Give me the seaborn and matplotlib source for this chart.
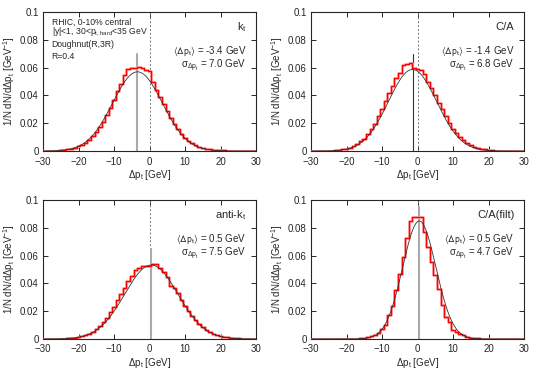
import numpy as np
import matplotlib
matplotlib.use('Agg')
import matplotlib.pyplot as plt
import seaborn as sns
from matplotlib.ticker import FuncFormatter, MultipleLocator

# bin centres (1 GeV bins)
bin_centres = np.arange(-30, 31)

kt_hist = [0.0000, 0.0001, 0.0001, 0.0002, 0.0003, 0.0005, 0.0007, 0.0011, 0.0016, 0.0023,
           0.0033, 0.0045, 0.0060, 0.0082, 0.0105, 0.0135, 0.0170, 0.0210, 0.0260, 0.0310,
           0.0370, 0.0430, 0.0485, 0.0550, 0.0590, 0.0600, 0.0600, 0.0605, 0.0598, 0.0580,
           0.0578, 0.0495, 0.0440, 0.0390, 0.0335, 0.0290, 0.0240, 0.0195, 0.0160, 0.0125,
           0.0097, 0.0075, 0.0057, 0.0043, 0.0032, 0.0024, 0.0018, 0.0013, 0.0010, 0.0007,
           0.0005, 0.0004, 0.0003, 0.0002, 0.0002, 0.0001, 0.0001, 0.0000, 0.0000, 0.0000,
           0.0000]

ca_hist = [0.0000, 0.0000, 0.0000, 0.0000, 0.0001, 0.0002, 0.0003, 0.0005, 0.0007, 0.0011,
           0.0017, 0.0025, 0.0036, 0.0052, 0.0070, 0.0090, 0.0120, 0.0160, 0.0195, 0.0250,
           0.0300, 0.0360, 0.0420, 0.0470, 0.0525, 0.0565, 0.0620, 0.0625, 0.0635, 0.0600,
           0.0592, 0.0585, 0.0555, 0.0500, 0.0450, 0.0405, 0.0345, 0.0300, 0.0255, 0.0200,
           0.0160, 0.0128, 0.0100, 0.0077, 0.0058, 0.0043, 0.0031, 0.0022, 0.0015, 0.0011,
           0.0008, 0.0005, 0.0003, 0.0002, 0.0001, 0.0000, 0.0000, 0.0000, 0.0000, 0.0000,
           0.0000]

akt_hist = [0.0000, 0.0000, 0.0000, 0.0000, 0.0001, 0.0002, 0.0003, 0.0004, 0.0006, 0.0009,
            0.0013, 0.0019, 0.0027, 0.0038, 0.0052, 0.0070, 0.0095, 0.0120, 0.0150, 0.0195,
            0.0230, 0.0280, 0.0325, 0.0370, 0.0420, 0.0455, 0.0495, 0.0510, 0.0528, 0.0525,
            0.0525, 0.0540, 0.0540, 0.0510, 0.0485, 0.0445, 0.0380, 0.0365, 0.0330, 0.0280,
            0.0240, 0.0200, 0.0165, 0.0133, 0.0110, 0.0085, 0.0067, 0.0050, 0.0038, 0.0028,
            0.0020, 0.0015, 0.0011, 0.0008, 0.0006, 0.0004, 0.0003, 0.0002, 0.0001, 0.0001,
            0.0000]

cafilt_hist = [0.0000, 0.0000, 0.0000, 0.0000, 0.0000, 0.0000, 0.0000, 0.0000, 0.0000, 0.0000,
               0.0000, 0.0000, 0.0001, 0.0002, 0.0004, 0.0007, 0.0012, 0.0020, 0.0030, 0.0045,
               0.0070, 0.0100, 0.0170, 0.0240, 0.0350, 0.0470, 0.0590, 0.0724, 0.0850, 0.0880,
               0.0880, 0.0880, 0.0770, 0.0660, 0.0556, 0.0460, 0.0360, 0.0245, 0.0160, 0.0125,
               0.0065, 0.0050, 0.0035, 0.0025, 0.0015, 0.0010, 0.0006, 0.0004, 0.0002, 0.0001,
               0.0000, 0.0000, 0.0000, 0.0000, 0.0000, 0.0000, 0.0000, 0.0000, 0.0000, 0.0000,
               0.0000]

algos = ['k$_\\mathrm{t}$', 'C/A', 'anti-k$_\\mathrm{t}$', 'C/A(filt)']
hists = [kt_hist, ca_hist, akt_hist, cafilt_hist]
means = [-3.4, -1.4, 0.5, 0.5]
sigmas = [7.0, 6.8, 7.5, 4.7]
mean_line_top = [0.070, 0.070, 0.065, 0.095]
mean_line_color = ['#aaaaaa', '#333333', '#aaaaaa', '#aaaaaa']
mean_line_width = [1.5, 0.8, 1.5, 1.5]

sns.set_style('ticks')
plt.rcParams['font.family'] = ['Liberation Sans', 'DejaVu Sans']
plt.rcParams['mathtext.fontset'] = 'custom'
plt.rcParams['mathtext.rm'] = 'Liberation Sans'
plt.rcParams['mathtext.it'] = 'Liberation Sans'
plt.rcParams['font.size'] = 7
plt.rcParams['axes.linewidth'] = 0.8

fig, axes = plt.subplots(2, 2, figsize=(5.38, 3.77), dpi=100)
fig.subplots_adjust(left=0.080, right=0.974, top=0.968, bottom=0.101, wspace=0.258, hspace=0.3525)

xs = np.linspace(-30, 30, 601)

for i, ax in enumerate(axes.flat):
    mu, sig = means[i], sigmas[i]
    # dashed line at zero
    ax.axvline(0, color='0.45', lw=0.7, ls=(0, (2, 2)), zorder=1)
    # mean line
    ax.plot([mu, mu], [0, mean_line_top[i]], color=mean_line_color[i],
            lw=mean_line_width[i], zorder=2)
    # histogram: light band + red line
    sns.lineplot(x=bin_centres, y=hists[i], ax=ax, drawstyle='steps-mid',
                 color='#ffb0b0', lw=2.0, zorder=3)
    sns.lineplot(x=bin_centres, y=hists[i], ax=ax, drawstyle='steps-mid',
                 color='#ff0000', lw=1.0, zorder=4)
    # gaussian with quoted mean and width
    gauss = np.exp(-(xs - mu) ** 2 / (2 * sig ** 2)) / (sig * np.sqrt(2 * np.pi))
    sns.lineplot(x=xs, y=gauss, ax=ax, color='#333333', lw=0.6, zorder=5)

    ax.set_xlim(-30, 30)
    ax.set_ylim(0, 0.1)
    ax.xaxis.set_major_locator(MultipleLocator(10))
    ax.yaxis.set_major_locator(MultipleLocator(0.02))
    ax.yaxis.set_major_formatter(FuncFormatter(lambda v, p: '%g' % round(v, 3)))
    ax.tick_params(direction='in', top=True, right=True, length=3.5, width=0.7,
                   labelsize=7)
    ax.tick_params(axis='x', pad=4)
    ax.tick_params(axis='y', pad=3)
    ax.set_xlabel('Δp$_\\mathrm{t}$ [GeV]', fontsize=7, labelpad=1)
    ax.set_ylabel('1/N dN/dΔp$_\\mathrm{t}$ [GeV$^{-1}$]', fontsize=7, labelpad=2)

    ax.text(0.955, 0.89, algos[i], transform=ax.transAxes, ha='right', va='center', fontsize=8)
    ax.text(0.955, 0.72, '$\\langle\\Delta\\mathrm{p}_\\mathrm{t}\\rangle$ = %.1f GeV' % mu,
            transform=ax.transAxes, ha='right', va='center', fontsize=7,
            math_fontfamily='stixsans')
    ax.text(0.955, 0.61, 'σ$_{\\mathrm{Δp_t}}$ = %.1f GeV' % sig, transform=ax.transAxes,
            ha='right', va='center', fontsize=7)

ax0 = axes[0, 0]
ax0.text(0.04, 0.925, 'RHIC, 0-10% central', transform=ax0.transAxes, va='center', fontsize=6.2)
ax0.text(0.04, 0.855, '|y|<1, 30<p$_\\mathrm{t,hard}$<35 GeV', transform=ax0.transAxes,
         va='center', fontsize=6.2)
ax0.text(0.04, 0.77, 'Doughnut(R,3R)', transform=ax0.transAxes, va='center', fontsize=6.2)
ax0.text(0.04, 0.68, 'R=0.4', transform=ax0.transAxes, va='center', fontsize=6.2)

fig.savefig('out.png', dpi=100)
